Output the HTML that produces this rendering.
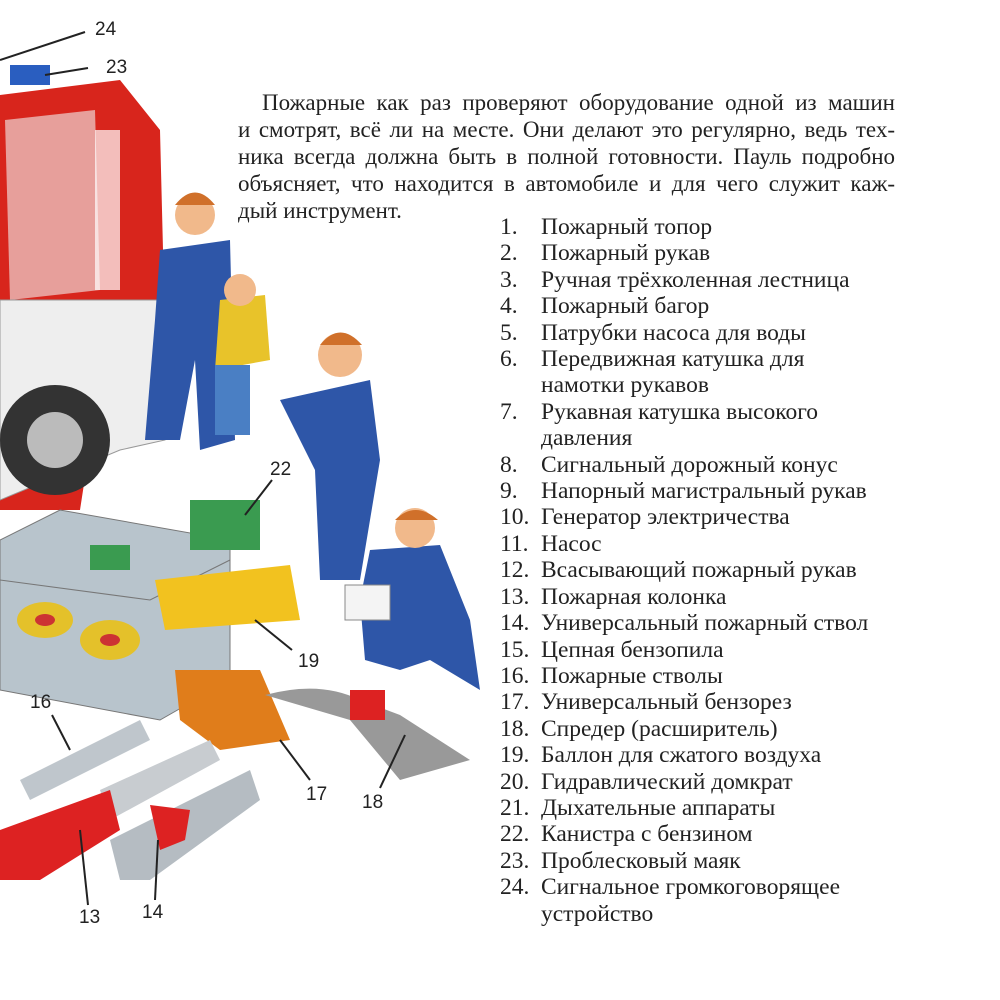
<!DOCTYPE html>
<html><head><meta charset="utf-8"><style>
body{margin:0;width:1000px;height:1000px;background:#fff;position:relative;overflow:hidden;font-family:"Liberation Serif","DejaVu Serif",serif;color:#222}
.p{position:absolute;left:238px;top:89px;width:657px;font-size:23px;line-height:27px}
.p div{text-align:justify;text-align-last:justify;white-space:nowrap}
.p div.last{text-align-last:left}
.l{position:absolute;font-size:23.5px;line-height:26.4px;top:214px;left:500px}
.l div{position:relative;padding-left:41px;white-space:nowrap}
.l span{position:absolute;left:0}
.n{position:absolute;font-family:"Liberation Sans",sans-serif;font-size:19px;color:#222}
svg{position:absolute;left:0;top:0}
</style></head><body>
<svg width="1000" height="1000">
<path d="M0 95 L120 80 L160 130 L165 330 L130 360 L100 380 L80 510 L0 510Z" fill="#d8251c"/>
<path d="M5 120 L95 110 L100 290 L10 300Z" fill="#f2f2f0" opacity=".6"/>
<rect x="95" y="130" width="25" height="160" fill="#fff" opacity=".7"/>
<path d="M0 300 L160 300 L165 440 L120 450 L0 500Z" fill="#eee" stroke="#999"/>
<circle cx="55" cy="440" r="55" fill="#333"/><circle cx="55" cy="440" r="28" fill="#bbb"/>
<rect x="10" y="65" width="40" height="20" fill="#2a5ec0"/>
<line x1="0" y1="60" x2="85" y2="32" stroke="#222" stroke-width="2"/>
<line x1="45" y1="75" x2="88" y2="68" stroke="#222" stroke-width="2"/>
<path d="M160 250 L230 240 L235 440 L200 450 L195 360 L180 440 L145 440 L155 320Z" fill="#2e56a8"/>
<circle cx="195" cy="215" r="20" fill="#f1b98b"/><path d="M175 205 Q195 180 215 205Z" fill="#d0702a"/>
<path d="M220 300 L265 295 L270 360 L215 370Z" fill="#e8c32a"/>
<rect x="215" y="365" width="35" height="70" fill="#4a7fc4"/>
<circle cx="240" cy="290" r="16" fill="#f1b98b"/>
<path d="M280 400 L370 380 L380 460 L360 580 L320 580 L315 470Z" fill="#2e56a8"/>
<circle cx="340" cy="355" r="22" fill="#f1b98b"/><path d="M320 345 Q340 320 362 345Z" fill="#d0702a"/>
<path d="M370 550 L440 545 L470 620 L480 690 L430 660 L400 670 L365 660 L360 600Z" fill="#2e56a8"/>
<circle cx="415" cy="528" r="20" fill="#f1b98b"/><path d="M395 520 Q415 500 438 520Z" fill="#d0702a"/>
<rect x="345" y="585" width="45" height="35" fill="#f4f4f4" stroke="#888"/>
<path d="M0 540 L60 510 L230 540 L230 680 L160 720 L0 690Z" fill="#b8c4cc" stroke="#777"/>
<path d="M0 580 L150 600 L230 560" stroke="#777" fill="none"/>
<ellipse cx="45" cy="620" rx="28" ry="18" fill="#e4c12a"/><ellipse cx="45" cy="620" rx="10" ry="6" fill="#c33"/>
<ellipse cx="110" cy="640" rx="30" ry="20" fill="#e4c12a"/><ellipse cx="110" cy="640" rx="10" ry="6" fill="#c33"/>
<rect x="190" y="500" width="70" height="50" fill="#3a9b50"/>
<rect x="90" y="545" width="40" height="25" fill="#3a9b50"/>
<path d="M155 580 L290 565 L300 620 L165 630Z" fill="#f2c21f"/>
<path d="M175 670 L260 670 L290 740 L220 750 L180 720Z" fill="#e07d1b"/>
<path d="M265 695 Q320 680 360 700 L400 715 L470 760 L400 780 L350 720Z" fill="#999"/>
<rect x="350" y="690" width="35" height="30" fill="#d22"/>
<path d="M20 780 L140 720 L150 740 L30 800Z" fill="#bfc6cc"/>
<path d="M100 790 L210 740 L220 760 L110 820Z" fill="#c8ccd0"/>
<path d="M0 830 L110 790 L120 830 L40 880 L0 880Z" fill="#d22"/>
<path d="M110 840 L250 770 L260 800 L150 880 L120 880Z" fill="#b5bcc2"/>
<path d="M150 805 L190 810 L185 840 L160 850Z" fill="#d22"/>
<g stroke="#222" stroke-width="2"><line x1="272" y1="480" x2="245" y2="515"/><line x1="255" y1="620" x2="292" y2="650"/><line x1="52" y1="715" x2="70" y2="750"/><line x1="280" y1="740" x2="310" y2="780"/><line x1="405" y1="735" x2="380" y2="788"/><line x1="80" y1="830" x2="88" y2="905"/><line x1="158" y1="840" x2="155" y2="900"/></g>
</svg>
<div class="n" style="left:95px;top:19px">24</div>
<div class="n" style="left:106px;top:57px">23</div>
<div class="n" style="left:270px;top:459px">22</div>
<div class="n" style="left:298px;top:651px">19</div>
<div class="n" style="left:30px;top:692px">16</div>
<div class="n" style="left:306px;top:784px">17</div>
<div class="n" style="left:362px;top:792px">18</div>
<div class="n" style="left:79px;top:907px">13</div>
<div class="n" style="left:142px;top:902px">14</div>
<div class="p">
<div style="margin-left:24px">Пожарные как раз проверяют оборудование одной из машин</div>
<div>и смотрят, всё ли на месте. Они делают это регулярно, ведь тех-</div>
<div>ника всегда должна быть в полной готовности. Пауль подробно</div>
<div>объясняет, что находится в автомобиле и для чего служит каж-</div>
<div class="last">дый инструмент.</div>
</div>
<div class="l">
<div><span>1.</span>Пожарный топор</div>
<div><span>2.</span>Пожарный рукав</div>
<div><span>3.</span>Ручная трёхколенная лестница</div>
<div><span>4.</span>Пожарный багор</div>
<div><span>5.</span>Патрубки насоса для воды</div>
<div><span>6.</span>Передвижная катушка для<br>намотки рукавов</div>
<div><span>7.</span>Рукавная катушка высокого<br>давления</div>
<div><span>8.</span>Сигнальный дорожный конус</div>
<div><span>9.</span>Напорный магистральный рукав</div>
<div><span>10.</span>Генератор электричества</div>
<div><span>11.</span>Насос</div>
<div><span>12.</span>Всасывающий пожарный рукав</div>
<div><span>13.</span>Пожарная колонка</div>
<div><span>14.</span>Универсальный пожарный ствол</div>
<div><span>15.</span>Цепная бензопила</div>
<div><span>16.</span>Пожарные стволы</div>
<div><span>17.</span>Универсальный бензорез</div>
<div><span>18.</span>Спредер (расширитель)</div>
<div><span>19.</span>Баллон для сжатого воздуха</div>
<div><span>20.</span>Гидравлический домкрат</div>
<div><span>21.</span>Дыхательные аппараты</div>
<div><span>22.</span>Канистра с бензином</div>
<div><span>23.</span>Проблесковый маяк</div>
<div><span>24.</span>Сигнальное громкоговорящее<br>устройство</div>
</div>
</body></html>
